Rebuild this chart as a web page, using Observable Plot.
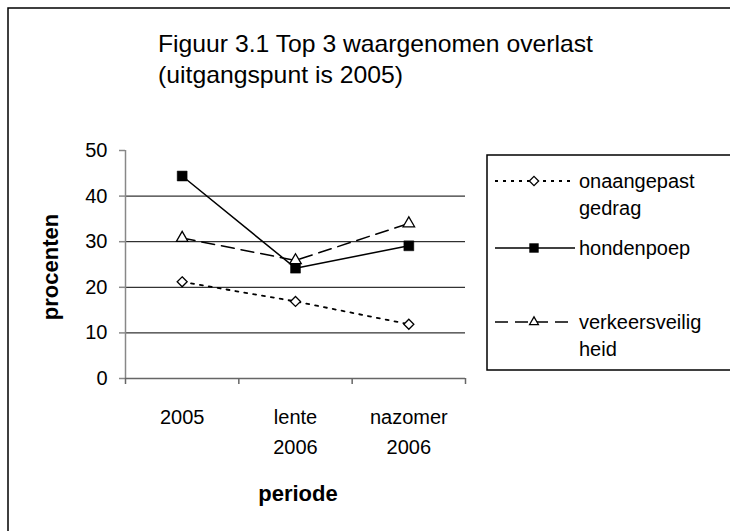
<!DOCTYPE html>
<html>
<head>
<meta charset="utf-8">
<script src="https://cdn.jsdelivr.net/npm/d3@7"></script>
<script src="https://cdn.jsdelivr.net/npm/@observablehq/plot@0.6"></script>
<style>
  html, body { margin: 0; padding: 0; background: #fff; }
  #chart { width: 730px; height: 531px; overflow: hidden; }
  svg { font-family: "Liberation Sans", Arial, sans-serif; }
</style>
</head>
<body>
<div id="chart"></div>
<script>
const periods = ["2005", "lente\n2006", "nazomer\n2006"];
const onaangepast = [21.2, 16.9, 11.9];
const hondenpoep = [44.4, 24.2, 29.1];
const verkeersveiligheid = [30.8, 25.9, 34.0];
const yTicks = [0, 10, 20, 30, 40, 50];
const gridValues = [10, 20, 30, 40];
const titleLines = ["Figuur 3.1 Top 3 waargenomen overlast", "(uitgangspunt is 2005)"];
const yLabel = "procenten";
const xLabel = "periode";
const legendItems = [
  {label: ["onaangepast", "gedrag"], dash: "3,5", symbol: "diamond", fill: "white"},
  {label: ["hondenpoep"], dash: null, symbol: "square", fill: "black"},
  {label: ["verkeersveilig", "heid"], dash: "13,7", symbol: "triangle", fill: "white"}
];

const toRows = (vals) => vals.map((v, i) => ({i: i + 0.5, v}));
const rowsO = toRows(onaangepast);
const rowsH = toRows(hondenpoep);
const rowsV = toRows(verkeersveiligheid);

const W = 730, H = 531;
const plot = Plot.plot({
  width: W,
  height: H,
  marginLeft: 125,
  marginRight: 265,
  marginTop: 150,
  marginBottom: 153,
  style: {fontFamily: "Liberation Sans, Arial, sans-serif", fontSize: "20px", color: "#000", background: "white", overflow: "visible"},
  x: {type: "linear", domain: [0, 3], axis: null},
  y: {type: "linear", domain: [0, 50], axis: null},
  marks: [
    Plot.ruleY(gridValues, {stroke: "#000", strokeWidth: 1}),
    Plot.ruleX([0], {y1: 0, y2: 50, stroke: "#888", strokeWidth: 1.5}),
    Plot.ruleY([0], {stroke: "#666", strokeWidth: 1.5}),
    Plot.axisY({ticks: yTicks, tickSize: 6, tickPadding: 12, fontSize: 20, stroke: "#888", strokeWidth: 1.5, label: null, color: "#000"}),
    Plot.axisX({ticks: [0, 1, 2, 3], tickSize: 6, tickFormat: () => "", stroke: "#666", strokeWidth: 1.5, label: null}),
    Plot.text(periods, {x: (d, i) => i + 0.5, y: () => 0, text: d => d, lineAnchor: "top", dy: 24, fontSize: 20, lineHeight: 1.5, fill: "#000"}),
    Plot.line(rowsO, {x: "i", y: "v", stroke: "#000", strokeWidth: 1.8, strokeDasharray: "3,6"}),
    Plot.line(rowsH, {x: "i", y: "v", stroke: "#000", strokeWidth: 1.5}),
    Plot.line(rowsV, {x: "i", y: "v", stroke: "#000", strokeWidth: 1.5, strokeDasharray: "13,7"}),
    Plot.dot(rowsO, {x: "i", y: "v", symbol: "diamond2", r: 4.5, stroke: "#000", strokeWidth: 1.3, fill: "white"}),
    Plot.dot(rowsH, {x: "i", y: "v", symbol: "square", r: 5.6, stroke: "#000", strokeWidth: 0.5, fill: "#000"}),
    Plot.dot(rowsV, {x: "i", y: "v", symbol: "triangle2", r: 5.5, stroke: "#000", strokeWidth: 1.3, fill: "white"})
  ]
});

document.getElementById("chart").appendChild(plot);
const svg = d3.select(plot);

// outer frame
svg.append("path").attr("d", `M8,${H + 5} L8,8 L${W + 5},8`).attr("fill", "none").attr("stroke", "#000").attr("stroke-width", 1.5);

// title
const tl = svg.append("g").attr("font-size", 24).attr("fill", "#000").attr("text-anchor", "start");
tl.append("text").attr("x", 158).attr("y", 52).attr("textLength", 435).attr("lengthAdjust", "spacingAndGlyphs").text(titleLines[0]);
tl.append("text").attr("x", 158).attr("y", 83).attr("textLength", 245).attr("lengthAdjust", "spacingAndGlyphs").text(titleLines[1]);

// axis labels
svg.append("text").attr("transform", "translate(58,267) rotate(-90)").attr("text-anchor", "middle")
  .attr("font-size", 22).attr("font-weight", "bold").attr("fill", "#000").text(yLabel);
svg.append("text").attr("x", 298).attr("y", 501).attr("text-anchor", "middle")
  .attr("font-size", 22).attr("font-weight", "bold").attr("fill", "#000").text(xLabel);

// legend
const lg = svg.append("g").attr("text-anchor", "start");
lg.append("rect").attr("x", 487).attr("y", 155).attr("width", 300).attr("height", 215)
  .attr("fill", "white").attr("stroke", "#000").attr("stroke-width", 1.5);
const rowY = [181, 248, 322];
const sym = {diamond: d3.symbolDiamond2, square: d3.symbolSquare, triangle: d3.symbolTriangle2};
legendItems.forEach((it, k) => {
  const y = rowY[k];
  lg.append("line").attr("x1", 495).attr("x2", 575).attr("y1", y).attr("y2", y)
    .attr("stroke", "#000").attr("stroke-width", it.dash === "3,5" ? 1.8 : 1.5)
    .attr("stroke-dasharray", it.dash);
  const size = it.symbol === "square" ? 5 * 5 * Math.PI : 4.2 * 4.2 * Math.PI;
  lg.append("path").attr("transform", `translate(534,${y})`)
    .attr("d", d3.symbol(sym[it.symbol], size)())
    .attr("fill", it.fill).attr("stroke", "#000").attr("stroke-width", it.fill === "white" ? 1.3 : 0.5);
  it.label.forEach((t, j) => {
    lg.append("text").attr("x", 579).attr("y", y + 7 + j * 27).attr("font-size", 20).attr("fill", "#000").text(t);
  });
});
</script>
</body>
</html>
